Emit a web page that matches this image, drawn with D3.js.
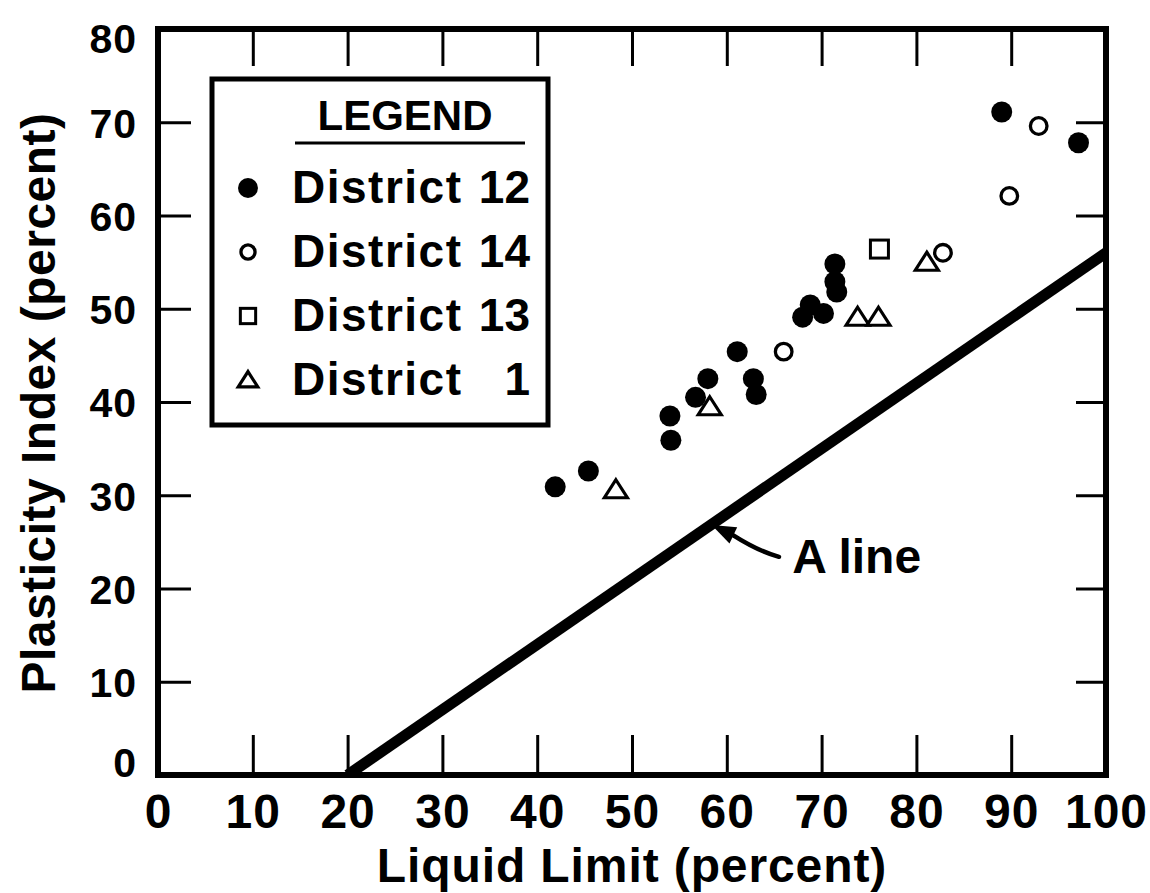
<!DOCTYPE html>
<html>
<head>
<meta charset="utf-8">
<script src="https://cdn.jsdelivr.net/npm/d3@7"></script>
<style>
  html, body { margin: 0; padding: 0; background: #fff; }
  svg { display: block; }
  .lbl { font-family: 'Liberation Sans', Arial, sans-serif; font-weight: bold; fill: #000; }
</style>
</head>
<body>
<svg id="chart" width="1150" height="893"></svg>
<script>
// Liquid limit (x) and plasticity index (y), in percent
const district12 = [
  [41.9, 30.9], [45.4, 32.6], [54.0, 38.5], [54.1, 35.9], [56.7, 40.5],
  [58.0, 42.5], [61.1, 45.4], [62.8, 42.5], [63.1, 40.8], [68.0, 49.1],
  [68.8, 50.4], [70.2, 49.5], [71.4, 54.8], [71.4, 52.9], [71.6, 51.8],
  [89.0, 71.1], [97.1, 67.8]
];
const district14 = [[66.0, 45.4], [82.8, 56.0], [89.8, 62.1], [92.9, 69.6]];
const district13 = [[76.1, 56.4]];
const district1  = [[48.3, 30.6], [58.2, 39.5], [73.8, 49.1], [76.0, 49.1], [81.1, 55.0]];

// Casagrande "A" line endpoints
const aLine = [[20, 0], [100, 56]];

const xTicks = [0, 10, 20, 30, 40, 50, 60, 70, 80, 90, 100];
const yTicks = [0, 10, 20, 30, 40, 50, 60, 70, 80];
const legendLabels = ["District 12", "District 14", "District 13", "District 1"];
const legendShapes = ["dot", "ring", "square", "triangle"];

const xTitle = "Liquid Limit (percent)";
const yTitle = "Plasticity Index (percent)";
const legendTitle = "LEGEND";
const aLineLabel = "A line";

const svg = d3.select("#chart");
const L = 158, R = 1106, T = 29, B = 775;
const x = d3.scaleLinear().domain([0, 100]).range([L, R]);
const y = d3.scaleLinear().domain([0, 80]).range([B, T]);

// inner tick marks on all four sides
const innerX = xTicks.slice(1, -1), innerY = yTicks.slice(1, -1);
const tickStyle = g => {
  g.select(".domain").remove();
  g.selectAll("line").attr("stroke", "#000").attr("stroke-width", 3);
  g.selectAll("text").remove();
};
svg.append("g").attr("transform", `translate(0,${B})`)
  .call(d3.axisBottom(x).tickValues(innerX).tickSize(-40)).call(tickStyle);
svg.append("g").attr("transform", `translate(0,${T})`)
  .call(d3.axisTop(x).tickValues(innerX).tickSize(-37)).call(tickStyle);
svg.append("g").attr("transform", `translate(${L},0)`)
  .call(d3.axisLeft(y).tickValues(innerY).tickSize(-33)).call(tickStyle);
svg.append("g").attr("transform", `translate(${R},0)`)
  .call(d3.axisRight(y).tickValues(innerY).tickSize(-30)).call(tickStyle);

// tick labels
const xl = svg.append("g").attr("transform", `translate(0,${B})`)
  .call(d3.axisBottom(x).tickValues(xTicks).tickSize(0).tickPadding(18).tickFormat(d3.format("d")));
xl.select(".domain").remove();
xl.selectAll("text").attr("class", "lbl").attr("font-size", 48).attr("letter-spacing", 1)
  .attr("dy", "0.72em");

const yl = svg.append("g").attr("transform", `translate(${L},0)`)
  .call(d3.axisLeft(y).tickValues(yTicks).tickSize(0).tickPadding(21).tickFormat(d3.format("d")));
yl.select(".domain").remove();
yl.selectAll("text").attr("class", "lbl").attr("font-size", 41).attr("letter-spacing", 1)
  .attr("dy", "0.36em")
  .attr("y", d => Math.min(Math.max(y(d), 38), 762) - y(d));

// A line, clipped to the plotting area
svg.append("clipPath").attr("id", "plotClip")
  .append("rect").attr("x", L).attr("y", T).attr("width", R - L).attr("height", B - T);
svg.append("path")
  .attr("clip-path", "url(#plotClip)")
  .attr("d", d3.line().x(d => x(d[0])).y(d => y(d[1]))(aLine))
  .attr("stroke", "#000").attr("stroke-width", 11).attr("fill", "none");

// frame
svg.append("rect").attr("x", L).attr("y", T).attr("width", R - L).attr("height", B - T)
  .attr("fill", "none").attr("stroke", "#000").attr("stroke-width", 6);

// symbols
function drawMarker(g, shape, cx, cy, s) {
  if (shape === "dot") {
    g.append("circle").attr("cx", cx).attr("cy", cy).attr("r", 10.5 * s).attr("fill", "#000");
  } else if (shape === "ring") {
    g.append("circle").attr("cx", cx).attr("cy", cy).attr("r", 8.3 * s)
      .attr("fill", "#fff").attr("stroke", "#000").attr("stroke-width", 3.3);
  } else if (shape === "square") {
    const h = 9 * s;
    g.append("rect").attr("x", cx - h).attr("y", cy - h).attr("width", 2 * h).attr("height", 2 * h)
      .attr("fill", "#fff").attr("stroke", "#000").attr("stroke-width", 3);
  } else {
    const w = 11.5 * s, h = 18 * s;
    g.append("path")
      .attr("d", `M${cx},${cy - h * 0.55}L${cx + w},${cy + h * 0.45}L${cx - w},${cy + h * 0.45}Z`)
      .attr("fill", "#fff").attr("stroke", "#000").attr("stroke-width", 3.2).attr("stroke-linejoin", "miter");
  }
}
const pts = svg.append("g");
[[district1, "triangle"], [district13, "square"], [district14, "ring"], [district12, "dot"]]
  .forEach(([data, shape]) => data.forEach(d => drawMarker(pts, shape, x(d[0]), y(d[1]), 1)));

// A line annotation: label and curved arrow
const labelAt = [66.9, 21.7], arrowFrom = [65.5, 23.4], arrowTo = [58.4, 26.8];
const ann = svg.append("g");
const tx = x(arrowTo[0]), ty = y(arrowTo[1]);
const fx = x(arrowFrom[0]), fy = y(arrowFrom[1]);
const ang = Math.atan2(fy - ty, fx - tx);
const hl = 24, hw = 9;
const bx = tx + hl * Math.cos(ang), by = ty + hl * Math.sin(ang);
ann.append("path")
  .attr("d", `M${fx},${fy}Q${(fx + bx) / 2 + 2},${(fy + by) / 2 + 5} ${bx},${by}`)
  .attr("stroke", "#000").attr("stroke-width", 4.5).attr("fill", "none").attr("stroke-linecap", "round");
ann.append("path")
  .attr("d", `M${tx},${ty}L${bx + hw * Math.sin(ang)},${by - hw * Math.cos(ang)}L${bx - hw * Math.sin(ang)},${by + hw * Math.cos(ang)}Z`)
  .attr("fill", "#000");
ann.append("text").attr("class", "lbl").attr("x", x(labelAt[0])).attr("y", y(labelAt[1]))
  .attr("font-size", 48).attr("letter-spacing", 0).text(aLineLabel);

// legend
const lg = svg.append("g");
lg.append("rect").attr("x", 212).attr("y", 79).attr("width", 336).attr("height", 346)
  .attr("fill", "#fff").attr("stroke", "#000").attr("stroke-width", 5);
lg.append("text").attr("class", "lbl").attr("x", 405).attr("y", 130)
  .attr("text-anchor", "middle").attr("font-size", 42).attr("letter-spacing", 0).text(legendTitle);
lg.append("line").attr("x1", 295).attr("x2", 525).attr("y1", 143).attr("y2", 143)
  .attr("stroke", "#000").attr("stroke-width", 3);
const rowY = d3.scalePoint().domain(legendLabels).range([203, 395]);
legendLabels.forEach((lab, i) => {
  const base = rowY(lab);
  const cut = lab.lastIndexOf(" ");
  drawMarker(lg, legendShapes[i], 248, base - 15, legendShapes[i] === "dot" ? 0.95 : 0.85);
  lg.append("text").attr("class", "lbl").attr("x", 292).attr("y", base)
    .attr("font-size", 46).attr("letter-spacing", 1.5).text(lab.slice(0, cut));
  lg.append("text").attr("class", "lbl").attr("x", 530).attr("y", base)
    .attr("text-anchor", "end").attr("font-size", 46).text(lab.slice(cut + 1));
});

// axis titles
svg.append("text").attr("class", "lbl").attr("x", (L + R) / 2).attr("y", 882)
  .attr("text-anchor", "middle").attr("font-size", 48).attr("letter-spacing", 0.9).text(xTitle);
svg.append("text").attr("class", "lbl")
  .attr("transform", `translate(55,403) rotate(-90)`)
  .attr("text-anchor", "middle").attr("font-size", 48).attr("letter-spacing", 0.5).text(yTitle);
</script>
</body>
</html>
